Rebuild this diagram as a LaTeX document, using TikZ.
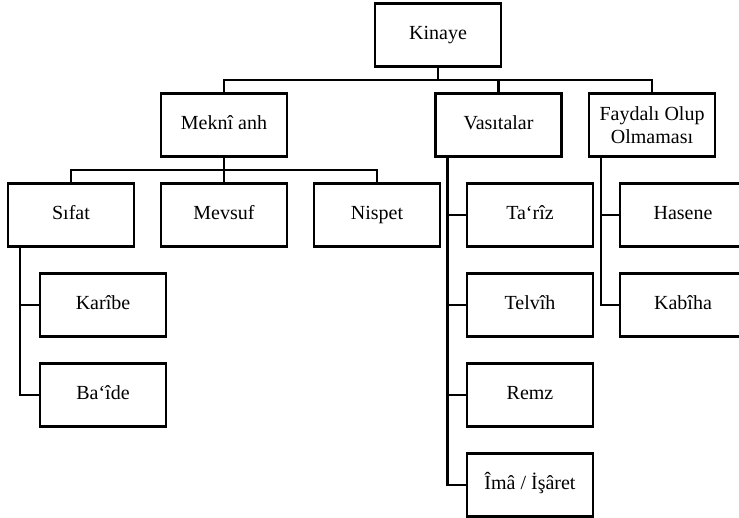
\documentclass[tikz,border=0pt]{standalone}
\usepackage{fontspec}
\setmainfont{Liberation Serif}
\usetikzlibrary{positioning}
\usetikzlibrary{calc}

\begin{document}
\begin{tikzpicture}[node distance=24.5pt,
  kutu/.style={draw, line width=2.5pt, minimum width=126pt, minimum height=63pt, align=center, inner sep=2pt, text height=14pt, text depth=4.5pt, font=\fontsize{20}{23}\selectfont},
  bag/.style={draw, line width=2.5pt}]
  \useasboundingbox (0,0) rectangle (739pt,-518pt);
  % third row
  \node[kutu] (sifat) at (71pt,-215pt) {Sıfat};
  \node[kutu,right=of sifat] (mevsuf) {Mevsuf};
  \node[kutu,right=of mevsuf] (nispet) {Nispet};
  \node[kutu,right=of nispet] (tariz) {Ta‘rîz};
  \node[kutu,right=of tariz] (hasene) {Hasene};
  % second row and top
  \node[kutu,above=of mevsuf] (mekni) {Meknî anh};
  \node[kutu,above=of tariz,xshift=-31.5pt] (vasitalar) {Vasıtalar};
  \node[kutu,above=of hasene,xshift=-31pt,text height=,text depth=] (faydali) {Faydalı Olup\\Olmaması};
  \node[kutu,above=of vasitalar,xshift=-60.5pt] (kinaye) {Kinaye};
  % columns
  \node[kutu,below=of sifat,xshift=32pt] (karibe) {Karîbe};
  \node[kutu,below=of karibe] (baide) {Ba‘îde};
  \node[kutu,below=of tariz] (telvih) {Telvîh};
  \node[kutu,below=of telvih] (remz) {Remz};
  \node[kutu,below=of remz] (ima) {Îmâ / İşâret};
  \node[kutu,below=of hasene] (kabiha) {Kabîha};

  % connectors
  \coordinate (bus1) at ($(kinaye.south)!.5!(kinaye.south |- vasitalar.north)$);
  \draw[bag] (kinaye.south) -- (bus1);
  \draw[bag] (mekni.north) |- (bus1) -| (faydali.north);
  \draw[bag] (vasitalar.north) -- (vasitalar.north |- bus1);
  \coordinate (bus2) at ($(mekni.south)!.5!(mekni.south |- mevsuf.north)$);
  \draw[bag] (sifat.north) |- (bus2) -| (nispet.north);
  \draw[bag] (mekni.south) -- (mevsuf.north);
  \coordinate (sifatspine) at ($(sifat.south west)+(13pt,0)$);
  \coordinate (vasitaspine) at ($(vasitalar.south west)+(13pt,0)$);
  \coordinate (faydaspine) at ($(faydali.south west)+(13pt,0)$);
  \draw[bag] (sifatspine) |- (baide.west);
  \draw[bag] (karibe.west) -- (karibe.west -| sifatspine);
  \draw[bag] (vasitaspine) |- (ima.west);
  \draw[bag] (tariz.west) -- (tariz.west -| vasitaspine);
  \draw[bag] (telvih.west) -- (telvih.west -| vasitaspine);
  \draw[bag] (remz.west) -- (remz.west -| vasitaspine);
  \draw[bag] (faydaspine) |- (kabiha.west);
  \draw[bag] (hasene.west) -- (hasene.west -| faydaspine);
\end{tikzpicture}
\end{document}
